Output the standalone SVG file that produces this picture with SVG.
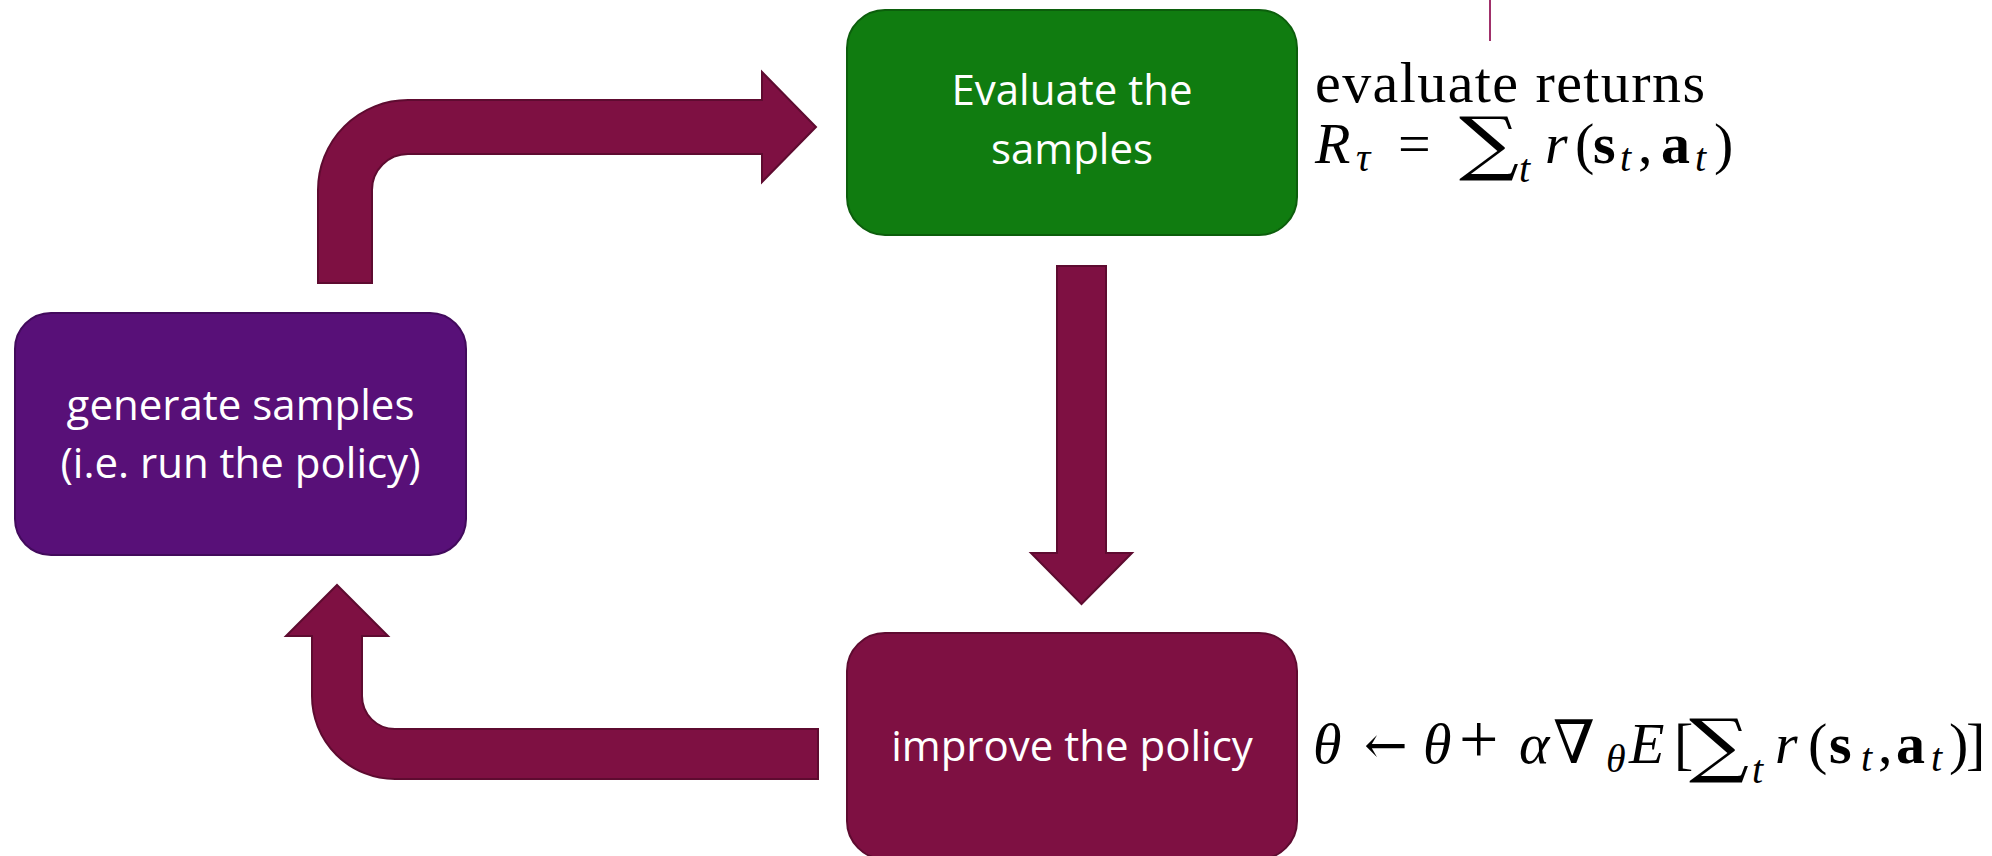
<svg xmlns="http://www.w3.org/2000/svg" width="1992" height="856" viewBox="0 0 1992 856">
<style>
.box{stroke-width:2}
.lbl{font-family:"Open Sans","Liberation Sans",sans-serif;font-size:42px;fill:#ffffff;text-anchor:middle}
.arrow{fill:#7E1042;stroke:#5E0B30;stroke-width:2}
.m{font-family:"Liberation Serif","DejaVu Serif",serif;font-size:58px;fill:#000}
.i{font-style:italic}
.b{font-weight:bold}
.sub{font-size:40px}
.op{font-family:"DejaVu Serif","Liberation Serif",serif}
.sum{font-family:"DejaVu Serif","Liberation Serif",serif;font-size:70px}
</style>
<rect width="1992" height="856" fill="#ffffff"/>
<line x1="1490" y1="0" x2="1490" y2="41" stroke="#A0306A" stroke-width="2"/>
<g id="connectors">
<path class="arrow" d="M318,283 L318,190 A90,90 0 0 1 408,100 L762,100 L762,72 L816,127 L762,182 L762,154 L408,154 A36,36 0 0 0 372,190 L372,283 Z"/>
<path class="arrow" d="M1057,266 L1106,266 L1106,553 L1132,553 L1081.5,604 L1031,553 L1057,553 Z"/>
<path class="arrow" d="M818,729 L395,729 A33,33 0 0 1 362,696 L362,636 L388,636 L337,585 L286,636 L312,636 L312,696 A83,83 0 0 0 395,779 L818,779 Z"/>
</g>
<g id="node-generate">
<rect class="box" x="15" y="313" width="451" height="242" rx="36" fill="#581078" stroke="#420A5C"/>
<text class="lbl" x="240.5" y="420">generate samples</text>
<text class="lbl" x="240.5" y="478">(i.e. run the policy)</text>
</g>
<g id="node-evaluate">
<rect class="box" x="847" y="10" width="450" height="225" rx="38" fill="#107C10" stroke="#0C5E0C"/>
<text class="lbl" x="1072" y="105">Evaluate the</text>
<text class="lbl" x="1072" y="164">samples</text>
</g>
<g id="node-improve">
<rect class="box" x="847" y="633" width="450" height="226" rx="38" fill="#7E1042" stroke="#5E0B30"/>
<text class="lbl" x="1072" y="761">improve the policy</text>
</g>
<g id="eq-returns">
<text class="m" x="1315" y="102" textLength="390" lengthAdjust="spacing">evaluate returns</text>
<text class="m i" x="1315" y="163">R</text>
<text class="m i sub" x="1356" y="171">τ</text>
<text class="m" x="1398" y="163">=</text>
<text class="sum" transform="translate(1459,167) scale(1.2,1)" x="0" y="0">∑</text>
<text class="m i sub" x="1519" y="182">t</text>
<text class="m i" x="1545" y="163">r</text>
<text class="m" x="1575" y="163">(</text>
<text class="m b" x="1593" y="163">s</text>
<text class="m i sub" x="1620" y="171">t</text>
<text class="m" x="1638" y="163">,</text>
<text class="m b" x="1661" y="163">a</text>
<text class="m i sub" x="1695" y="171">t</text>
<text class="m" x="1714" y="163">)</text>
</g>
<g id="eq-update">
<text class="m i" x="1313" y="763">θ</text>
<text class="m op" x="1364" y="763" style="font-size:52px">←</text>
<text class="m i" x="1423" y="763">θ</text>
<text class="m" x="1459" y="763" style="font-size:70px">+</text>
<text class="m i" x="1519" y="763">α</text>
<text class="m op" x="1553" y="763" style="font-size:60px">∇</text>
<text class="m i sub" x="1606" y="772">θ</text>
<text class="m i" x="1629" y="763">E</text>
<text class="m" x="1674" y="763">[</text>
<text class="sum" transform="translate(1689,769) scale(1.2,1)" x="0" y="0">∑</text>
<text class="m i sub" x="1752" y="783">t</text>
<text class="m i" x="1775" y="763">r</text>
<text class="m" x="1808" y="763">(</text>
<text class="m b" x="1829" y="763">s</text>
<text class="m i sub" x="1861" y="771">t</text>
<text class="m" x="1878" y="763">,</text>
<text class="m b" x="1896" y="763">a</text>
<text class="m i sub" x="1931" y="771">t</text>
<text class="m" x="1949" y="763">)</text>
<text class="m" x="1966" y="763">]</text>
</g>
</svg>
